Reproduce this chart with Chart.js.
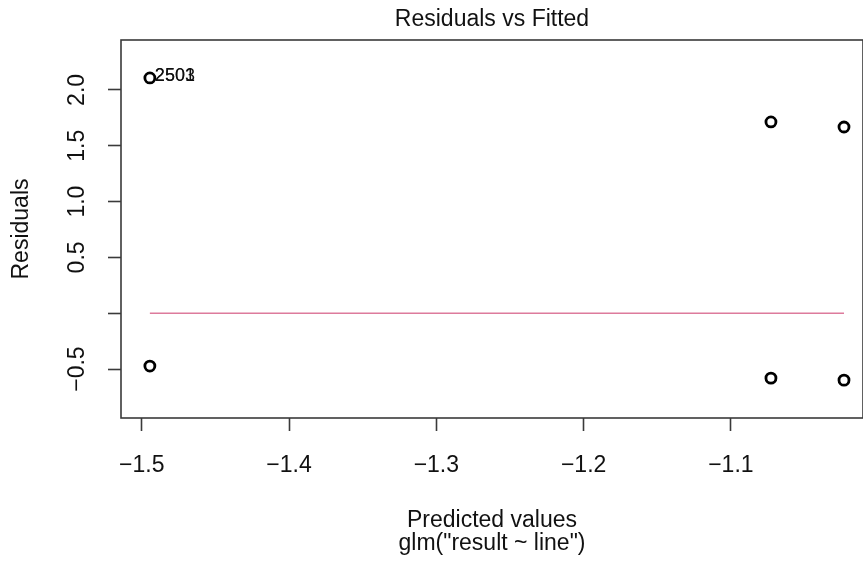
<!DOCTYPE html>
<html>
<head>
<meta charset="utf-8">
<script src="https://cdn.jsdelivr.net/npm/chart.js@4.4.0/dist/chart.umd.min.js"></script>
<style>
  html, body { margin: 0; padding: 0; background: #fff; }
  #wrap { width: 863px; height: 570px; }
</style>
</head>
<body>
<div id="wrap"><canvas id="residChart"></canvas></div>
<script>
// values
var fitted = [-1.4945, -1.4945, -1.0728, -1.0728, -1.0232, -1.0232];
var residuals = [2.107, -0.473, 1.713, -0.581, 1.668, -0.599];
// two observations share the top-left point, so their ids print on top of each other
var idLabels = [['2501', '2503'], [], [], [], [], []];
var smoothX = [-1.4945, -1.0232];
var smoothY = [0.0, 0.0];
var xTicks = [-1.5, -1.4, -1.3, -1.2, -1.1];
var yTicks = [-0.5, 0.0, 0.5, 1.0, 1.5, 2.0];

var FONT = "'Liberation Sans', Arial, Helvetica, sans-serif";

function fmt(v, hide0) {
  if (hide0 && Math.abs(v) < 1e-9) return '';
  return (v < 0 ? '\u2212' : '') + Math.abs(v).toFixed(1);
}

var boxPlugin = {
  id: 'rBox',
  beforeDatasetsDraw: function(chart) {
    var a = chart.chartArea, c = chart.ctx;
    c.save();
    c.strokeStyle = '#3a3a3a';
    c.lineWidth = 1.6;
    c.strokeRect(a.left, a.top, a.right - a.left, a.bottom - a.top);
    c.restore();
  }
};

var idPlugin = {
  id: 'idLabels',
  afterDatasetsDraw: function(chart) {
    var meta = chart.getDatasetMeta(0), c = chart.ctx;
    c.save();
    c.font = '18px ' + FONT;
    c.fillStyle = '#111';
    c.textBaseline = 'middle';
    c.textAlign = 'left';
    meta.data.forEach(function(pt, i) {
      idLabels[i].forEach(function(t) {
        c.fillText(t, pt.x + 5, pt.y - 2);
      });
    });
    c.restore();
  }
};

var ctx = document.getElementById('residChart').getContext('2d');
var residChart = new Chart(ctx, {
  type: 'scatter',
  data: {
    datasets: [{
      data: fitted.map(function(x, i) { return {x: x, y: residuals[i]}; }),
      pointStyle: 'circle',
      pointRadius: 5,
      pointBorderWidth: 2.8,
      pointBorderColor: '#000',
      pointBackgroundColor: 'rgba(0,0,0,0)',
      order: 1
    }, {
      type: 'line',
      data: smoothX.map(function(x, i) { return {x: x, y: smoothY[i]}; }),
      borderColor: '#dd7b9c',
      borderWidth: 1.3,
      pointRadius: 0,
      fill: false,
      order: 2
    }]
  },
  options: {
    responsive: true,
    maintainAspectRatio: false,
    animation: false,
    layout: { padding: 0, autoPadding: false },
    plugins: {
      legend: { display: false },
      tooltip: { enabled: false },
      title: {
        display: true,
        fullSize: false,
        text: 'Residuals vs Fitted',
        color: '#111',
        font: { family: FONT, size: 23, weight: 'normal', lineHeight: 1.2 },
        padding: { top: 6, bottom: 6.4 }
      }
    },
    scales: {
      x: {
        type: 'linear',
        min: -1.5141,
        max: -1.0103,
        afterBuildTicks: function(s) { s.ticks = xTicks.map(function(v) { return {value: v}; }); },
        afterFit: function(s) { s.height = 152; s.paddingLeft = 0; s.paddingRight = 0; },
        ticks: {
          color: '#111',
          font: { family: FONT, size: 23, lineHeight: 1.2 },
          padding: 21,
          maxRotation: 0,
          autoSkip: false,
          callback: function(v) { return fmt(v, false); }
        },
        grid: { display: true, drawOnChartArea: false, drawTicks: true, tickLength: 13, tickColor: '#3a3a3a', tickWidth: 1.6 },
        border: { display: false },
        title: {
          display: true,
          text: ['Predicted values', 'glm("result ~ line")'],
          color: '#111',
          font: { family: FONT, size: 23, lineHeight: 1.0 },
          padding: { top: 0, bottom: 15 }
        }
      },
      y: {
        type: 'linear',
        min: -0.938,
        max: 2.447,
        afterBuildTicks: function(s) { s.ticks = yTicks.map(function(v) { return {value: v}; }); },
        afterFit: function(s) { s.width = 121; s.paddingTop = 0; s.paddingBottom = 0; },
        ticks: {
          color: '#111',
          font: { family: FONT, size: 23, lineHeight: 1.2 },
          padding: 8,
          minRotation: 90,
          maxRotation: 90,
          crossAlign: 'center',
          autoSkip: false,
          callback: function(v) { return fmt(v, true); }
        },
        grid: { display: true, drawOnChartArea: false, drawTicks: true, tickLength: 13, tickColor: '#3a3a3a', tickWidth: 1.6 },
        border: { display: false },
        title: {
          display: true,
          text: 'Residuals',
          color: '#111',
          font: { family: FONT, size: 23, lineHeight: 1.2 },
          padding: { top: 8, bottom: 0 }
        }
      }
    }
  },
  plugins: [boxPlugin, idPlugin]
});
</script>
</body>
</html>
